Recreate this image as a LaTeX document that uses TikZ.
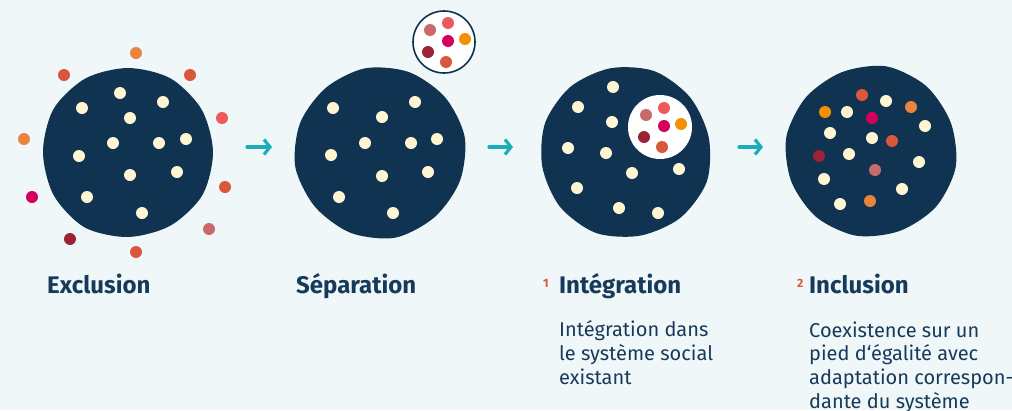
\documentclass[tikz,border=0pt]{standalone}
\usepackage{fontspec}
\setmainfont{Fira Sans}
\usetikzlibrary{arrows.meta}

\definecolor{backdrop}{HTML}{EFF7F9}
\definecolor{navy}{HTML}{0F3350}
\definecolor{ink}{HTML}{183A5A}
\definecolor{cream}{HTML}{FFF5D2}
\definecolor{flowteal}{HTML}{1AAEBD}
\definecolor{peach}{HTML}{E8843E}
\definecolor{rust}{HTML}{D9573A}
\definecolor{coral}{HTML}{EE5A5A}
\definecolor{berry}{HTML}{D4005E}
\definecolor{rose}{HTML}{C86A6A}
\definecolor{wine}{HTML}{9B2335}
\definecolor{amber}{HTML}{F39200}

\newcommand{\blobpath}{plot [smooth cycle] coordinates {(0:85) (30:86) (60:85) (90:85) (120:87) (150:86) (180:85) (210:86) (240:85) (270:84) (300:85) (330:85)}}

\begin{document}
\begin{tikzpicture}[x=1pt, y=-1pt,
	heading/.style={anchor=base west, inner sep=0, text=ink, font=\fontsize{24}{27}\selectfont\bfseries},
	marker/.style={anchor=base west, inner sep=0, text=rust, font=\fontsize{12}{14}\selectfont\bfseries},
	blurb/.style={anchor=base west, inner sep=0, align=left, text=ink, font=\fontsize{20}{23.6}\selectfont},
	flow/.style={-{Straight Barb[length=6pt,width=15pt]}, flowteal, line width=3.2pt, line cap=round}]
	\fill [backdrop] (0,0) rectangle (1012,410);
	\clip (0,0) rectangle (1012,410);

	\coordinate (exclusion-c) at (128,152);
	\coordinate (separation-c) at (380,152);
	\coordinate (integration-c) at (625,152);
	\coordinate (inclusion-c) at (871,152);

	% Exclusion
	\fill [navy, shift={(exclusion-c)}] \blobpath;
	\fill [cream] (82,108) circle [radius=6] (120,93) circle [radius=6] (163,102) circle [radius=6]
		(130,118) circle [radius=6] (113,143) circle [radius=6] (159,143) circle [radius=6]
		(186,139) circle [radius=6] (79,156) circle [radius=6] (130,175) circle [radius=6]
		(177,172) circle [radius=6] (87,197) circle [radius=6] (142,213) circle [radius=6];
	\fill [peach] (136,53) circle [radius=6] (24,139) circle [radius=6];
	\fill [rust] (64,75) circle [radius=6] (190,75) circle [radius=6] (225,187) circle [radius=6] (136,252) circle [radius=6];
	\fill [coral] (222,118) circle [radius=6];
	\fill [berry] (32,197) circle [radius=6];
	\fill [rose] (209,229) circle [radius=6];
	\fill [wine] (70,239) circle [radius=6];

	% Separation
	\fill [navy, shift={(separation-c)}, rotate=40] \blobpath;
	\fill [cream] (333,108) circle [radius=6] (415,102) circle [radius=6] (382,117) circle [radius=6]
		(365,143) circle [radius=6] (411,143) circle [radius=6] (437,139) circle [radius=6]
		(331,155) circle [radius=6] (382,176) circle [radius=6] (428,172) circle [radius=6]
		(339,197) circle [radius=6] (393,213) circle [radius=6];
	\draw [navy, line width=1.6pt, fill=white] (444,42) circle [radius=31];
	\fill [rose] (430,30) circle [radius=6];
	\fill [coral] (448,23) circle [radius=6];
	\fill [berry] (448,41) circle [radius=6];
	\fill [amber] (465,39) circle [radius=6];
	\fill [wine] (428,52) circle [radius=6];
	\fill [rust] (446,62) circle [radius=6];

	% Integration
	\fill [navy, shift={(integration-c)}, rotate=100] \blobpath;
	\fill [cream] (613,87) circle [radius=6] (578,107) circle [radius=6] (612,122) circle [radius=6]
		(568,148) circle [radius=6] (606,153) circle [radius=6] (632,173) circle [radius=6]
		(679,169) circle [radius=6] (577,188) circle [radius=6] (619,208) circle [radius=6]
		(658,213) circle [radius=6];
	\fill [white] (660,127) circle [radius=32];
	\fill [rose] (646,115) circle [radius=6];
	\fill [coral] (664,108) circle [radius=6];
	\fill [berry] (664,126) circle [radius=6];
	\fill [amber] (681,124) circle [radius=6];
	\fill [wine] (644,137) circle [radius=6];
	\fill [rust] (662,147) circle [radius=6];

	% Inclusion
	\fill [navy, shift={(inclusion-c)}, rotate=200] \blobpath;
	\fill [cream] (886,101) circle [radius=6] (847,112) circle [radius=6] (830,133) circle [radius=6]
		(925,126) circle [radius=6] (872,138) circle [radius=6] (849,154) circle [radius=6]
		(919,162) circle [radius=6] (824,179) circle [radius=6] (902,189) circle [radius=6]
		(840,204) circle [radius=6];
	\fill [rust] (862,95) circle [radius=6] (892,141) circle [radius=6];
	\fill [peach] (911,107) circle [radius=6] (870,201) circle [radius=6];
	\fill [amber] (825,112) circle [radius=6];
	\fill [berry] (872,118) circle [radius=6];
	\fill [wine] (819,156) circle [radius=6];
	\fill [rose] (875,170) circle [radius=6];

	% arrows
	\coordinate (step1-out) at (247,147);
	\coordinate (step1-in) at (272,147);
	\coordinate (step2-out) at (489,147);
	\coordinate (step2-in) at (513,147);
	\coordinate (step3-out) at (739,147);
	\coordinate (step3-in) at (763,147);
	\draw [flow] (step1-out) -- (step1-in);
	\draw [flow] (step2-out) -- (step2-in);
	\draw [flow] (step3-out) -- (step3-in);

	% labels
	\node [heading] (exclusion) at (47,293) {Exclusion};
	\node [heading] (separation) at (296,293) {Séparation};
	\node [marker] (note1) at (543,287) {1};
	\node [heading] (integration) at (559,293) {Intégration};
	\node [marker] (note2) at (797,287) {2};
	\node [heading] (inclusion) at (809,293) {Inclusion};
	% base anchor sits on the last line
	\node [blurb] (integration-text) at (559,384) {Intégration dans\\le système social\\existant};
	\node [blurb] (inclusion-text) at (809,408) {Coexistence sur un\\pied d‘égalité avec\\adaptation correspon-\\dante du système};
\end{tikzpicture}
\end{document}
